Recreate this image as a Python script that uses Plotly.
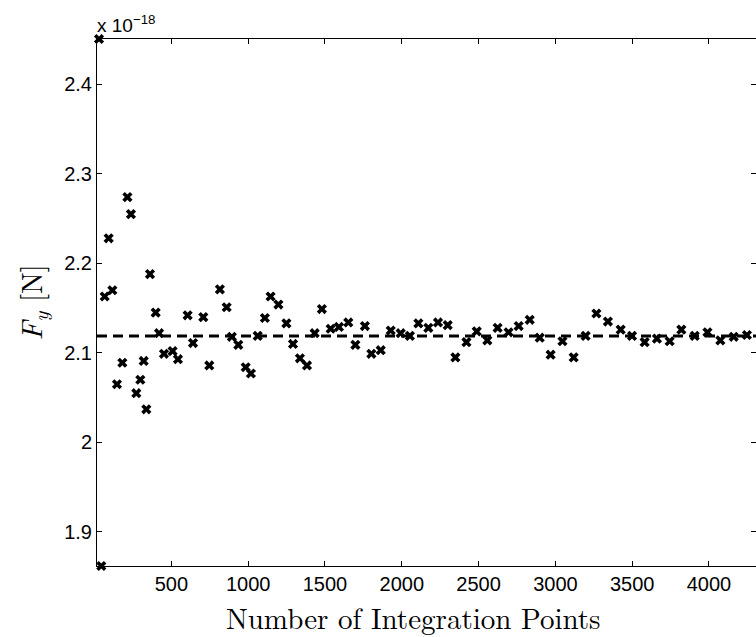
import plotly.graph_objects as go

# Computed force component (units of 1e-18 N) versus number of integration points
n_points = [29, 44, 66, 92, 116, 146, 181, 214, 237, 272, 298, 320, 337, 361, 398,
            420, 452, 508, 543, 606, 641, 708, 747, 816, 860, 894, 936, 984, 1018,
            1062, 1109, 1146, 1197, 1249, 1292, 1337, 1383, 1433, 1480, 1537, 1591,
            1652, 1698, 1760, 1802, 1863, 1928, 1993, 2053, 2108, 2173, 2236, 2299,
            2349, 2421, 2488, 2557, 2624, 2695, 2761, 2833, 2898, 2969, 3046, 3119,
            3197, 3267, 3342, 3425, 3499, 3581, 3661, 3744, 3820, 3907, 3990, 4074,
            4161, 4247]
fy_values = [2.4506, 1.862, 2.163, 2.228, 2.170, 2.065, 2.089, 2.274, 2.255, 2.055,
             2.070, 2.091, 2.037, 2.188, 2.145, 2.122, 2.099, 2.102, 2.093, 2.142,
             2.111, 2.140, 2.086, 2.171, 2.151, 2.118, 2.109, 2.084, 2.077, 2.119,
             2.139, 2.163, 2.154, 2.133, 2.110, 2.094, 2.086, 2.122, 2.149, 2.127,
             2.129, 2.134, 2.109, 2.130, 2.099, 2.103, 2.125, 2.122, 2.119, 2.133,
             2.128, 2.134, 2.131, 2.095, 2.112, 2.124, 2.114, 2.128, 2.123, 2.130,
             2.137, 2.117, 2.098, 2.113, 2.095, 2.119, 2.144, 2.135, 2.126, 2.119,
             2.112, 2.116, 2.113, 2.126, 2.119, 2.123, 2.114, 2.118, 2.120]
reference_fy = 2.119

x_range = [16, 4306]
y_range = [1.862, 2.4506]
x_ticks = [500, 1000, 1500, 2000, 2500, 3000, 3500, 4000]
y_ticks = [1.9, 2.0, 2.1, 2.2, 2.3, 2.4]
y_tick_labels = ["1.9", "2", "2.1", "2.2", "2.3", "2.4"]

fig = go.Figure()

fig.add_trace(go.Scatter(
    x=x_range, y=[reference_fy, reference_fy], mode="lines",
    line=dict(color="black", width=3, dash="10px,6px"),
    hoverinfo="skip", showlegend=False,
))

fig.add_trace(go.Scatter(
    x=n_points, y=fy_values, mode="markers",
    marker=dict(symbol="x", size=9, color="black", line=dict(width=0)),
    cliponaxis=False, showlegend=False,
))

sans = "Liberation Sans, Arial, sans-serif"
tick_font = dict(family=sans, size=20, color="black")
axis_common = dict(
    showline=True, linecolor="black", linewidth=1, mirror="ticks",
    ticks="inside", ticklen=5, tickwidth=1, tickcolor="black",
    showgrid=False, zeroline=False, tickfont=tick_font,
)

fig.update_layout(
    width=756, height=637,
    margin=dict(l=97, r=0, t=39, b=71),
    paper_bgcolor="white", plot_bgcolor="white",
    xaxis=dict(range=x_range, tickvals=x_ticks, **axis_common),
    yaxis=dict(range=y_range, tickvals=y_ticks, ticktext=y_tick_labels, **axis_common),
)

# Scale factor shown above the y axis
fig.add_annotation(
    xref="paper", yref="paper", x=0, y=1, xanchor="left", yanchor="bottom",
    yshift=1, xshift=-2, showarrow=False, align="left",
    text="x 10<sup>−18</sup>",
    font=dict(family=sans, size=19, color="black"),
)

serif = "Latin Modern Roman, CMU Serif, Liberation Serif, DejaVu Serif, serif"
fig.add_annotation(
    xref="paper", yref="paper", x=0.5, y=0, xanchor="center", yanchor="top",
    yshift=-28, xshift=-13, showarrow=False,
    text="Number of Integration Points",
    font=dict(family=serif, size=29, color="black"),
)
fig.add_annotation(
    xref="paper", yref="paper", x=0, y=0.5, xanchor="center", yanchor="middle",
    xshift=-66, showarrow=False, textangle=-90,
    text="<i>F</i><sub><i>y</i></sub> [N]",
    font=dict(family=serif, size=29, color="black"),
)

fig.write_html("out.html")
